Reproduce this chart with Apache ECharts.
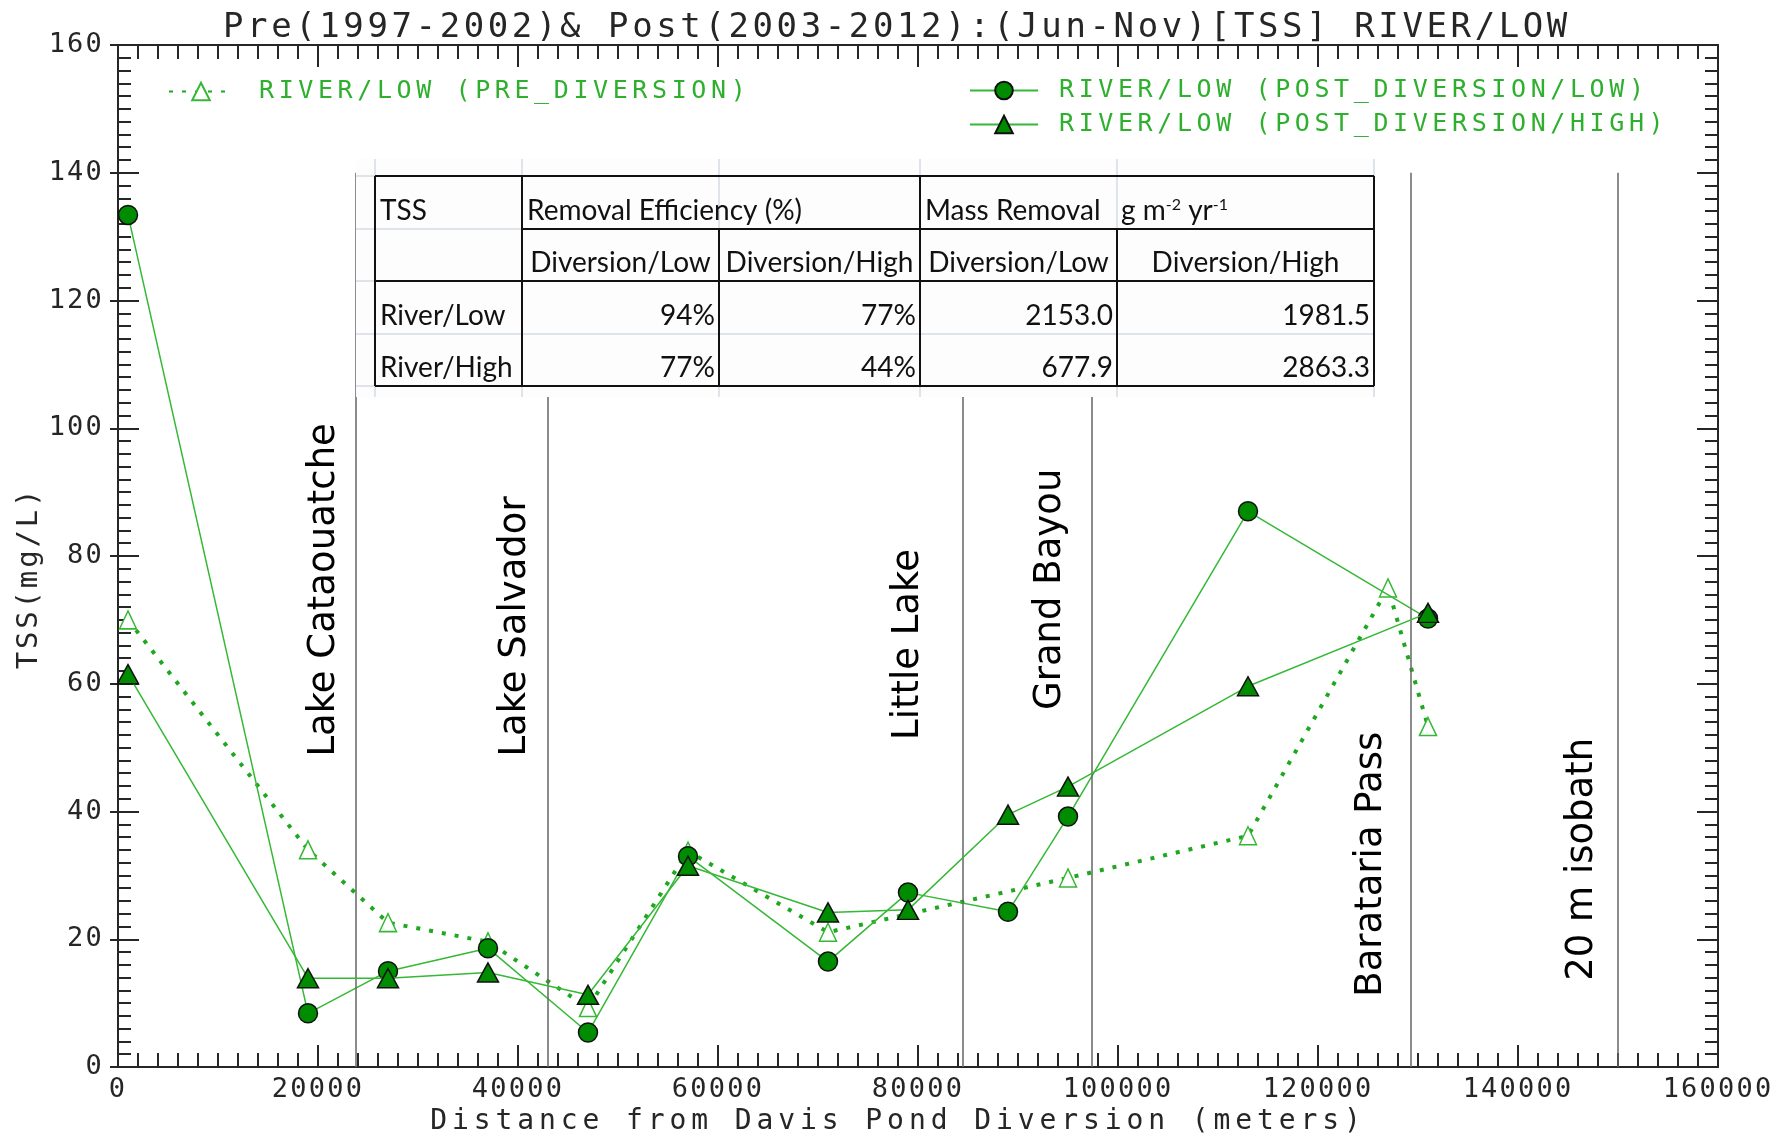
<!DOCTYPE html>
<html>
<head>
<meta charset="utf-8">
<title>TSS River/Low</title>
<script src="https://cdn.jsdelivr.net/npm/echarts@6/dist/echarts.min.js"></script>
<style>
    html, body { margin: 0; padding: 0; background: #fff; }
    #chart { width: 1777px; height: 1133px; }
</style>
</head>
<body>
<div id="chart"></div>
<script>
/** station distances (m) for the post diversion runs */
const distPost = [1000, 19000, 27000, 37000, 47000, 57000, 71000, 79000, 89000, 95000, 113000, 131000];
/** TSS (mg/L) post diversion / low */
const tssPostLow = [133.4, 8.4, 15.0, 18.6, 5.4, 33.0, 16.5, 27.3, 24.3, 39.2, 87.0, 70.2];
/** TSS (mg/L) post diversion / high */
const tssPostHigh = [61.5, 13.9, 13.9, 14.8, 11.3, 31.5, 24.2, 24.6, 39.5, 43.9, 59.6, 71.1];
/** station distances (m) for the pre diversion run */
const distPre = [1000, 19000, 27000, 37000, 47000, 57000, 71000, 95000, 113000, 127000, 131000];
/** TSS (mg/L) pre diversion */
const tssPre = [70.0, 34.0, 22.6, 19.6, 9.3, 33.8, 21.1, 29.6, 36.2, 75.0, 53.3];

/** landmarks along the transect */
const landmarkNames = ["Lake Cataouatche", "Lake Salvador", "Little Lake", "Grand Bayou", "Barataria Pass", "20 m isobath"];
const landmarkDist = [23800, 43000, 84500, 97400, 129300, 150000];

/** inset table */
const tableHead = ["TSS", "Removal Efficiency (%)", "Mass Removal", "g m{sup|-2} yr{sup|-1}"];
const tableSubHead = ["", "Diversion/Low", "Diversion/High", "Diversion/Low", "Diversion/High"];
const tableRows = [
    ["River/Low", "94%", "77%", "2153.0", "1981.5"],
    ["River/High", "77%", "44%", "677.9", "2863.3"],
];

const legendPre = "RIVER/LOW (PRE_DIVERSION)";
const legendLow = "RIVER/LOW (POST_DIVERSION/LOW)";
const legendHigh = "RIVER/LOW (POST_DIVERSION/HIGH)";

// the original plot uses a spaced out terminal font: add letter spacing to the mono texts
const MONO = "DejaVu Sans Mono";
const spacingBySize = { 34: 3.6, 29: 2.8, 28: 4.9, 27: 2.2, 25: 4.6 };
const baseFillText = CanvasRenderingContext2D.prototype.fillText;
CanvasRenderingContext2D.prototype.fillText = function (text, x, y, maxWidth) {
    const m = /(\d+)px.*Mono/.exec(this.font);
    this.letterSpacing = m && spacingBySize[m[1]] ? spacingBySize[m[1]] + "px" : "0px";
    if (maxWidth === undefined) return baseFillText.call(this, text, x, y);
    return baseFillText.call(this, text, x, y, maxWidth);
};

const GREEN_LINE = "#35b835";
const GREEN_FILL = "#008c00";
const GREEN_TEXT = "#2eb02e";
const AXIS = "#262626";

// where each rotated landmark label starts (distance, TSS)
const landmarkLabelAt = [[20600, 48.6], [39700, 48.6], [79000, 51.2], [93200, 55.9], [125300, 11.0], [146400, 13.5]];

/* ---------- inset table built as graphic elements ---------- */
const colX = [375, 522, 719, 920, 1117, 1374];
const rowY = [176, 229, 281, 334, 386];
const tableEls = [];
const addLine = (x1, y1, x2, y2, color, w) => tableEls.push({
    type: "line", z: 100, silent: true,
    shape: { x1, y1, x2, y2 },
    style: { stroke: color, lineWidth: w },
});
const addText = (x, y, str, align) => tableEls.push({
    type: "text", z: 102, silent: true, x, y,
    style: {
        text: str, font: "28px Lato", fill: "#111", align, verticalAlign: "middle",
        rich: { sup: { fontSize: 16, fontFamily: "Lato", verticalAlign: "top", fill: "#111" } },
    },
});
// pasted picture background with its faint spreadsheet grid
tableEls.push({ type: "rect", z: 99, silent: true, shape: { x: 356, y: 159, width: 1019, height: 238 }, style: { fill: "#fdfdfd" } });
const FAINT = "#d5dbe5";
colX.forEach(x => addLine(x, 159, x, 397, FAINT, 1.5));
rowY.forEach(y => addLine(356, y, 1375, y, FAINT, 1.5));
// black borders
const BLACK = "#111";
addLine(colX[0], rowY[0], colX[5], rowY[0], BLACK, 2);
addLine(colX[1], rowY[1], colX[5], rowY[1], BLACK, 2);
addLine(colX[0], rowY[2], colX[5], rowY[2], BLACK, 2);
addLine(colX[0], rowY[4], colX[5], rowY[4], BLACK, 2);
addLine(colX[0], rowY[0], colX[0], rowY[4], BLACK, 2);
addLine(colX[1], rowY[0], colX[1], rowY[4], BLACK, 2);
addLine(colX[2], rowY[1], colX[2], rowY[4], BLACK, 2);
addLine(colX[3], rowY[0], colX[3], rowY[4], BLACK, 2);
addLine(colX[4], rowY[1], colX[4], rowY[4], BLACK, 2);
addLine(colX[5], rowY[0], colX[5], rowY[4], BLACK, 2);
// texts sit near the bottom of their cells
const cellY = r => (rowY[r] + rowY[r + 1]) / 2 + 8;
addText(colX[0] + 5, cellY(0), tableHead[0], "left");
addText(colX[1] + 5, cellY(0), tableHead[1], "left");
addText(colX[3] + 5, cellY(0), tableHead[2], "left");
addText(colX[4] + 4, cellY(0), tableHead[3], "left");
tableSubHead.forEach((t, i) => t && addText((colX[i] + colX[i + 1]) / 2, cellY(1), t, "center"));
tableRows.forEach((row, r) => {
    row.forEach((t, i) => {
        if (i === 0) addText(colX[0] + 5, cellY(r + 2), t, "left");
        else addText(colX[i + 1] - 4, cellY(r + 2), t, "right");
    });
});

const monoLabel = size => ({ fontFamily: MONO, fontSize: size, color: AXIS });

const xAxisBase = {
    type: "value", min: 0, max: 160000, interval: 20000,
    axisLine: { show: true, onZero: false, lineStyle: { color: AXIS, width: 2 } },
    axisTick: { show: true, inside: true, length: 22, lineStyle: { color: AXIS, width: 2 } },
    minorTick: { show: true, splitNumber: 10, length: 14, lineStyle: { color: AXIS, width: 2 } },
    splitLine: { show: false },
};
const yAxisBase = {
    type: "value", min: 0, max: 160, interval: 20,
    axisLine: { show: true, onZero: false, lineStyle: { color: AXIS, width: 2 } },
    axisTick: { show: true, inside: true, length: 21, lineStyle: { color: AXIS, width: 2 } },
    minorTick: { show: true, splitNumber: 10, length: 13, lineStyle: { color: AXIS, width: 2 } },
    splitLine: { show: false },
};

const option = {
    animation: false,
    backgroundColor: "#fff",
    title: {
        text: "Pre(1997-2002)& Post(2003-2012):(Jun-Nov)[TSS] RIVER/LOW",
        left: 223,
        top: 11,
        padding: 0,
        textStyle: { fontFamily: MONO, fontSize: 34, fontWeight: "normal", color: AXIS },
    },
    legend: [
        {
            data: [legendPre],
            left: 168, top: 79, padding: 0,
            itemWidth: 64, itemHeight: 22,
            textStyle: { fontFamily: MONO, fontSize: 25, color: GREEN_TEXT, padding: [0, 0, 0, 21] },
        },
        {
            data: [legendLow, legendHigh],
            orient: "vertical",
            left: 969, top: 78, padding: 0,
            itemWidth: 68, itemHeight: 22, itemGap: 9,
            textStyle: { fontFamily: MONO, fontSize: 25, color: GREEN_TEXT, padding: [0, 0, 0, 16] },
        },
    ],
    grid: { left: 118, right: 59, top: 45, bottom: 66, containLabel: false, outerBoundsMode: "none" },
    xAxis: [
        {
            ...xAxisBase,
            position: "bottom",
            name: "Distance from Davis Pond Diversion (meters)",
            nameLocation: "middle",
            nameGap: 38,
            nameTextStyle: { ...monoLabel(28), padding: [0, 40, 0, 0] },
            axisLabel: { ...monoLabel(27), margin: 9, formatter: v => String(v) },
        },
        { ...xAxisBase, position: "top", axisLabel: { show: false } },
    ],
    yAxis: [
        {
            ...yAxisBase,
            position: "left",
            name: "TSS(mg/L)",
            nameLocation: "middle",
            nameGap: 72,
            nameTextStyle: { ...monoLabel(29), padding: [0, 44, 0, 0] },
            axisLabel: { ...monoLabel(27), margin: 14 },
        },
        { ...yAxisBase, position: "right", axisLabel: { show: false } },
        {
            // major ticks also poke out to the left
            ...yAxisBase,
            position: "left",
            axisLine: { show: false },
            axisTick: { show: true, inside: false, length: 8, lineStyle: { color: AXIS, width: 2 } },
            minorTick: { show: false },
            axisLabel: { show: false },
        },
    ],
    series: [
        {
            name: legendPre,
            type: "line",
            data: distPre.map((d, i) => [d, tssPre[i]]),
            symbol: "triangle",
            symbolSize: [17, 18],
            itemStyle: { color: "#fff", borderColor: GREEN_LINE, borderWidth: 1.5 },
            lineStyle: { color: "#1fa81f", width: 4, type: [4, 9] },
            z: 3,
        },
        {
            name: legendLow,
            type: "line",
            data: distPost.map((d, i) => [d, tssPostLow[i]]),
            symbol: "circle",
            symbolSize: 19,
            itemStyle: { color: GREEN_FILL, borderColor: "#111", borderWidth: 1.5 },
            lineStyle: { color: GREEN_LINE, width: 1.5 },
            z: 4,
        },
        {
            name: legendHigh,
            type: "line",
            data: distPost.map((d, i) => [d, tssPostHigh[i]]),
            symbol: "triangle",
            symbolSize: [21, 19],
            itemStyle: { color: GREEN_FILL, borderColor: "#111", borderWidth: 1.5 },
            lineStyle: { color: GREEN_LINE, width: 1.5 },
            z: 5,
        },
        {
            name: "landmarks",
            type: "line",
            data: [],
            silent: true,
            z: 1,
            markLine: {
                silent: true,
                symbol: "none",
                label: { show: false },
                lineStyle: { color: "#666", width: 1.5, type: "solid" },
                data: landmarkDist.map(d => [{ coord: [d, 0] }, { coord: [d, 140] }]),
            },
            markPoint: {
                silent: true,
                symbol: "circle",
                symbolSize: 1,
                itemStyle: { color: "rgba(0,0,0,0)" },
                label: {
                    show: true,
                    position: "inside",
                    rotate: 90,
                    align: "left",
                    verticalAlign: "middle",
                    fontFamily: "DejaVu Sans",
                    fontSize: 37,
                    color: "#000",
                    formatter: p => p.name,
                },
                data: landmarkNames.map((n, i) => ({ name: n, coord: landmarkLabelAt[i] })),
            },
        },
    ],
    graphic: tableEls,
};

const chart = echarts.init(document.getElementById("chart"));
chart.setOption(option);
</script>
</body>
</html>
